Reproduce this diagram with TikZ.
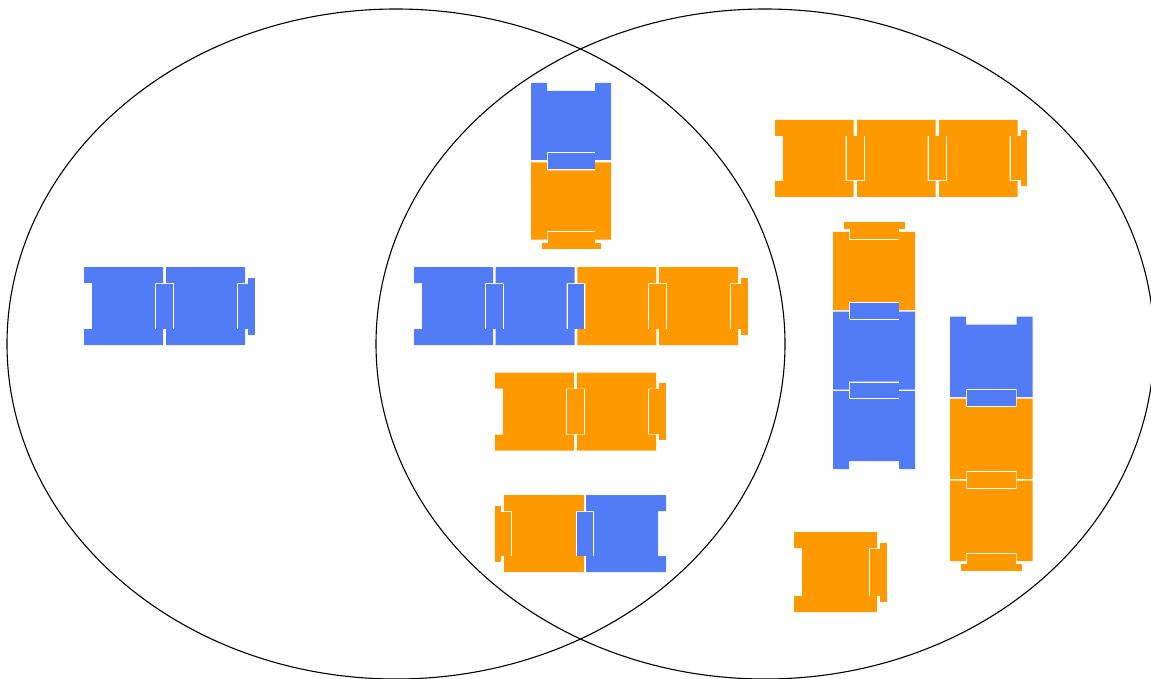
\documentclass[tikz,border=0pt]{standalone}
\definecolor{bblue}{RGB}{82,124,245}
\definecolor{borange}{RGB}{255,153,0}
\tikzset{
  venn/.style={draw=black, line width=1.1pt},
  joint/.style={draw=white, line width=1pt},
}
% #1 x, #2 y (back-edge centre), #3 angle, #4 length, #5 pitch, #6 half cross width, #7 count, #8 colours
\newcommand{\brickchain}[8]{%
 \begin{scope}[shift={(#1,#2)},rotate=#3]
  \pgfmathsetmacro\bL{#4}\pgfmathsetmacro\bP{#5}\pgfmathsetmacro\bC{#6}%
  \pgfmathsetmacro\bN{\bC-16}%
  \foreach \bc [count=\i from 0] in {#8}{%
    \pgfmathsetmacro\bu{\i*\bP}%
    \fill[\bc] (\bu,-\bC) -- (\bu+\bL,-\bC) -- (\bu+\bL,-\bN) -- (\bu+\bL-8,-\bN) -- (\bu+\bL-8,\bN) -- (\bu+\bL,\bN) -- (\bu+\bL,\bC) -- (\bu,\bC) -- (\bu,\bN) -- (\bu+8,\bN) -- (\bu+8,-\bN) -- (\bu,-\bN) -- cycle;
  }%
  \foreach \bc [count=\i from 1] in {#8}{%
    \pgfmathsetmacro\bu{(\i-1)*\bP}%
    \ifnum\i<#7\relax
      \fill[\bc] (\bu+\bL-7.5,-\bN+0.5) rectangle (\bu+\bP+7.5,\bN-0.5);
      \draw[joint] (\bu+\bL-7.5,-\bN+0.5) -- (\bu+\bL-7.5,\bN-0.5);
      \draw[joint] (\bu+\bP+7.5,-\bN+0.5) -- (\bu+\bP+7.5,\bN-0.5);
    \else
      \fill[\bc] (\bu+\bL-7.5,-\bN+0.5) rectangle (\bu+\bL+3,\bN-0.5);
      \draw[joint] (\bu+\bL-7.5,-\bN+0.5) -- (\bu+\bL-7.5,\bN-0.5);
      \fill[\bc] (\bu+\bL+3,-\bN-5.5) rectangle (\bu+\bL+9.5,\bN+5.5);
    \fi
  }%
 \end{scope}}
\begin{document}
\begin{tikzpicture}[x=1pt,y=-1pt]
\useasboundingbox (0,0) rectangle (1151,679);
\clip (0,0) rectangle (1151,679);
\draw[venn] (396,344) ellipse [x radius=389, y radius=335];
\draw[venn] (765,344) ellipse [x radius=389, y radius=335];
% left set
\brickchain{84}{306}{0}{79}{82}{39}{2}{bblue,bblue}
% intersection
\brickchain{571}{83}{-90}{77}{79.5}{40}{2}{bblue,borange}
\brickchain{414}{306}{0}{79}{81.7}{39}{4}{bblue,bblue,borange,borange}
\brickchain{495}{411.5}{0}{79}{82}{39}{2}{borange,borange}
\brickchain{666}{533.5}{180}{80}{82}{38.5}{2}{bblue,borange}
% right set
\brickchain{775}{158.4}{0}{78.5}{82}{38.5}{3}{borange,borange,borange}
\brickchain{874}{469}{90}{78}{79.5}{41}{3}{bblue,bblue,borange}
\brickchain{991.3}{316.7}{-90}{80.5}{82}{41.3}{3}{bblue,borange,borange}
\brickchain{794}{572}{0}{83}{85}{40}{1}{borange}
\end{tikzpicture}
\end{document}
